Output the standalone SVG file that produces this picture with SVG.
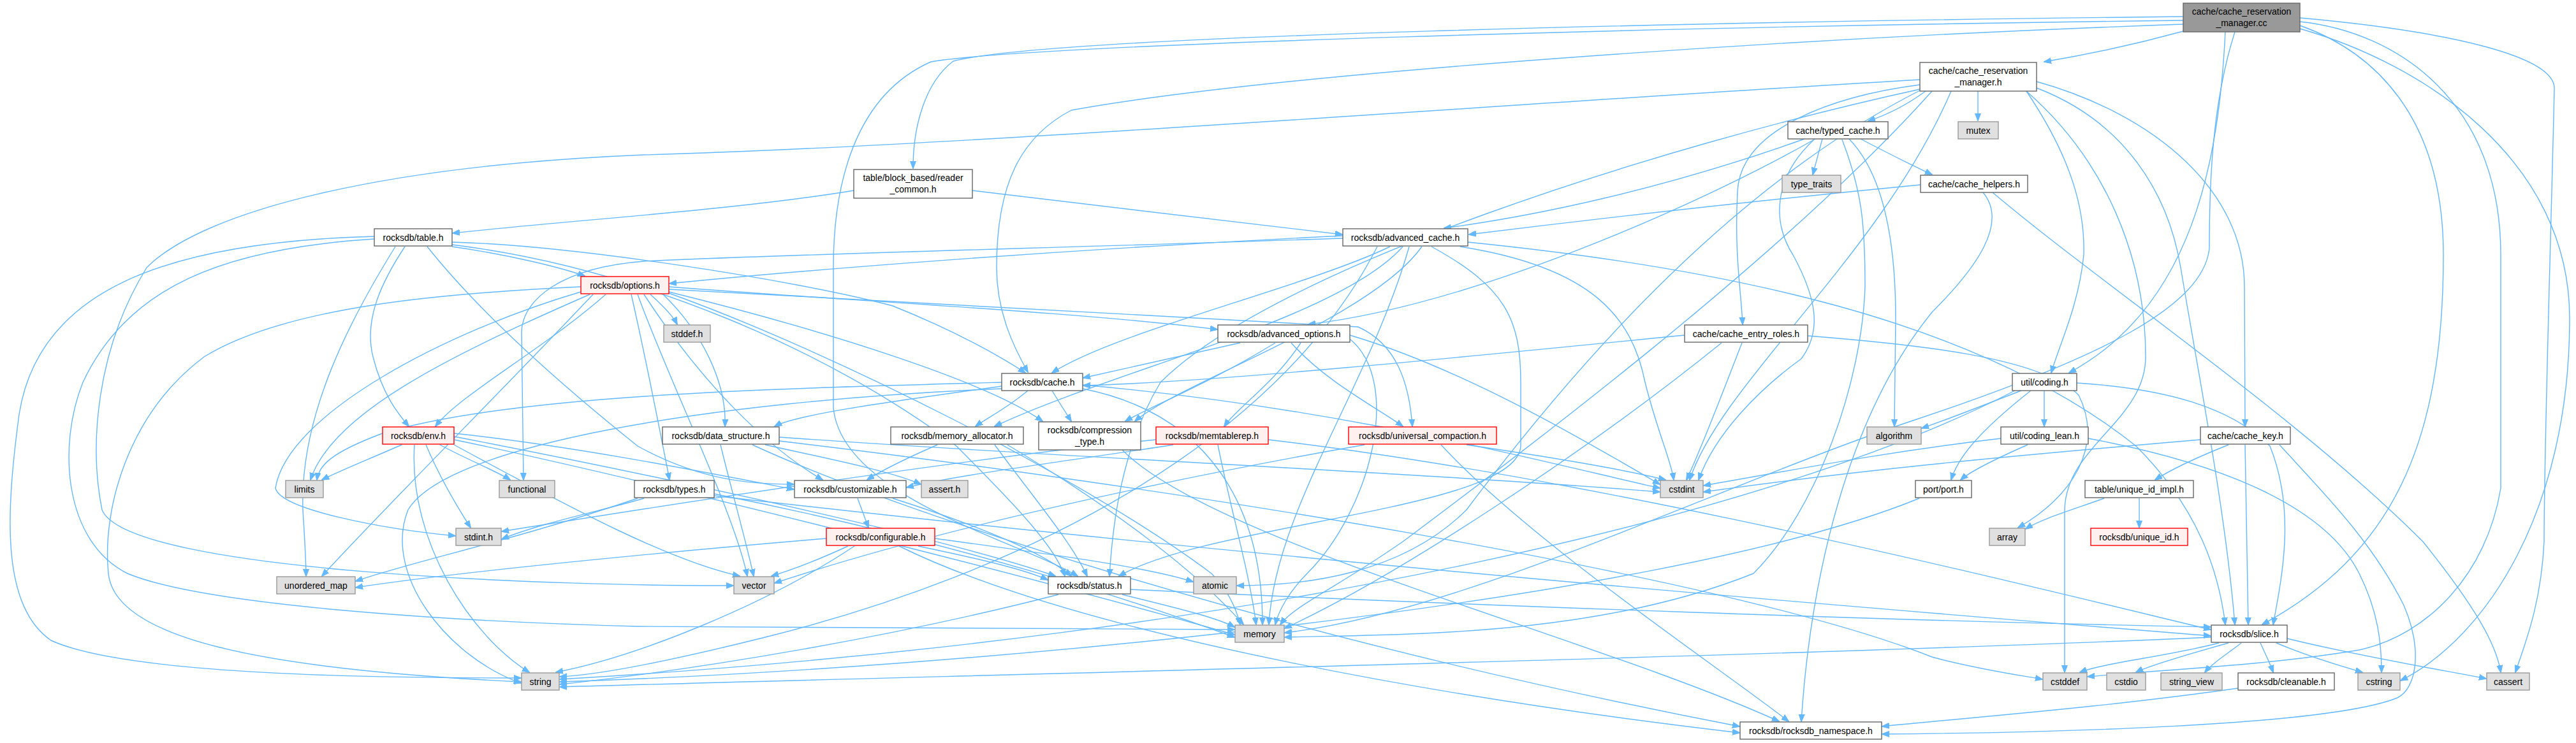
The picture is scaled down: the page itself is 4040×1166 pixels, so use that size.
<svg xmlns="http://www.w3.org/2000/svg" width="4040" height="1166" viewBox="0 0 4040 1166">
<defs>
<marker id="a" viewBox="0 0 12 10" refX="11" refY="5" markerWidth="12" markerHeight="10" markerUnits="userSpaceOnUse" orient="auto"><path d="M0,0.5 L12,5 L0,9.5 z" fill="#63b8ff" stroke="#63b8ff"/></marker>
</defs>
<style>
#edges path{fill:none;stroke:#63b8ff;stroke-width:1.4;marker-end:url(#a)}
.n rect{fill:#ffffff;stroke:#666666;stroke-width:1.4}
.g rect{fill:#e0e0e0;stroke:#999999;stroke-width:1.4}
.r rect{fill:#fff0f0;stroke:#ff0000;stroke-width:1.4}
.root rect{fill:#999999;stroke:#666666;stroke-width:1.4}
text{font-family:"Liberation Sans",Arial,sans-serif;font-size:14px;text-anchor:middle;fill:#000000}
</style>
<rect width="4040" height="1166" fill="#ffffff"/>
<g id="edges">
<path d="M3424,49 C3340,72 3260,88 3206,97"/>
<path d="M3424,26 C2700,34 1650,55 1495,96 C1450,130 1432,200 1432,264"/>
<path d="M3424,38 C2800,60 2000,115 1680,173 C1600,215 1563,290 1563,420 C1563,490 1590,545 1612,584"/>
<path d="M3424,32 C2600,42 1620,70 1460,97 C1340,150 1307,290 1307,420 L1307,640 C1320,780 1600,850 1690,904"/>
<path d="M3505,50 C3470,160 3465,280 3465,390 C3455,480 3300,560 3000,660 C2700,760 2300,960 2015,993"/>
<path d="M3490,50 C3480,250 3440,480 3245,585"/>
<path d="M3607,40 C3720,80 3832,180 3832,400 C3832,700 3750,870 3548,980"/>
<path d="M3607,34 C3760,50 3922,160 3922,400 L3922,766 C3900,900 3809,996 3700,1020 C3550,1045 3400,1050 3274,1062"/>
<path d="M3607,28 C3850,50 4009,90 4006,140 C4000,400 3990,700 3990,850 C3985,950 3960,1010 3945,1055"/>
<path d="M3607,45 C3800,100 4030,250 4030,500 C4030,800 3900,1000 3765,1068"/>
<path d="M3020,143 C2990,165 2960,180 2930,190"/>
<path d="M3102,143 L3102,189"/>
<path d="M3011,133 C2880,150 2730,200 2725,300 C2720,400 2730,450 2733,509"/>
<path d="M3194,128 C3380,180 3520,300 3520,450 L3521,669"/>
<path d="M3178,143 C3250,250 3270,330 3268,400 C3260,480 3230,540 3217,585"/>
<path d="M3194,138 C3330,190 3400,300 3420,420 C3450,600 3490,800 3505,980"/>
<path d="M3011,140 C2600,230 2000,420 1820,600 C1760,700 1745,820 1740,904"/>
<path d="M3011,142 C2700,300 2450,600 2300,800 C2200,900 2050,919 1940,919"/>
<path d="M3030,143 C2800,400 2400,700 2200,850 C2100,920 2030,950 2008,980"/>
<path d="M3060,143 C2950,400 2700,600 2650,753"/>
<path d="M3178,143 C3300,250 3365,400 3365,560 C3365,660 3240,700 3238,800 L3238,1055"/>
<path d="M3011,125 C2400,160 1500,230 1010,243 C600,260 320,330 230,420 C150,550 140,700 160,800 C200,900 900,920 1150,919"/>
<path d="M2858,218 L2843,274"/>
<path d="M2918,218 C2960,240 3000,260 3030,274"/>
<path d="M2830,218 C2600,300 2400,340 2265,358"/>
<path d="M2847,218 C2650,330 2300,480 2052,509"/>
<path d="M2900,218 C2960,280 2973,400 2973,500 L2971,669"/>
<path d="M2844,220 C2780,280 2780,350 2812,400 C2850,470 2857,520 2825,563 C2760,610 2690,680 2664,753"/>
<path d="M2889,219 C2920,300 2925,350 2925,450 C2920,600 2850,800 2750,900 C2500,1000 2200,995 2015,1000"/>
<path d="M3012,290 C2700,320 2450,350 2304,368"/>
<path d="M3125,302 C3300,450 3600,650 3800,850 C3880,950 3915,1010 3922,1055"/>
<path d="M3110,302 C3150,350 3100,420 3030,490 C2900,650 2840,900 2825,1132"/>
<path d="M1339,299 C1150,330 900,345 710,366"/>
<path d="M1525,299 C1700,320 1950,350 2105,368"/>
<path d="M709,387 C800,400 880,420 917,433"/>
<path d="M635,387 C600,440 570,500 585,560 C600,620 625,650 641,669"/>
<path d="M709,380 C900,385 1250,440 1400,480 C1500,520 1570,560 1608,585"/>
<path d="M670,387 C760,500 900,620 1000,700 C1100,755 1180,760 1245,760"/>
<path d="M709,384 C1000,420 1300,550 1500,700 C1600,800 1655,860 1670,904"/>
<path d="M587,375 C350,390 200,450 130,600 C90,700 100,850 200,900 C320,950 700,975 1000,983 C1500,988 1800,988 1936,988"/>
<path d="M587,371 C250,380 60,460 30,650 C10,800 0,950 80,1005 C200,1060 600,1064 817,1064"/>
<path d="M620,387 C550,500 470,650 475,800 C478,850 480,880 480,904"/>
<path d="M2106,370 C1700,390 1300,420 1050,445"/>
<path d="M2180,387 C2050,450 1750,520 1650,585"/>
<path d="M2200,387 C2100,500 1750,580 1560,669"/>
<path d="M2230,387 C2150,500 1850,600 1780,661"/>
<path d="M2302,380 C2700,420 3100,500 3350,700 C3450,800 3480,900 3490,980"/>
<path d="M2245,387 C2360,450 2385,500 2385,600 L2385,700 C2380,800 1900,820 1755,904"/>
<path d="M2290,387 C2500,420 2560,500 2580,600 C2600,680 2620,720 2625,753"/>
<path d="M2106,374 C1700,388 1200,400 1010,410 C880,420 820,470 818,520 L821,753"/>
<path d="M2210,387 C2150,600 2000,800 1990,980"/>
<path d="M2160,387 C2000,700 1600,900 1200,1000 C1000,1050 920,1060 878,1062"/>
<path d="M1020,462 C1040,480 1055,495 1062,509"/>
<path d="M911,458 C700,520 450,650 432,766 C440,800 600,830 714,841"/>
<path d="M925,462 C700,560 520,650 487,753"/>
<path d="M1049,460 C1300,550 1700,750 1900,900 C1930,930 1940,960 1945,980"/>
<path d="M911,450 C700,460 450,480 320,560 C200,650 160,800 170,900 C180,1000 400,1050 817,1070"/>
<path d="M930,462 C800,600 600,800 505,904"/>
<path d="M1000,462 C1050,600 1150,800 1172,904"/>
<path d="M1049,450 C1300,470 1700,490 1909,517"/>
<path d="M1049,458 C1300,520 1550,600 1635,661"/>
<path d="M1010,462 C1100,600 1200,700 1290,753"/>
<path d="M1040,462 C1100,520 1140,600 1137,669"/>
<path d="M950,462 C850,550 720,620 683,669"/>
<path d="M990,462 C1010,550 1030,650 1050,753"/>
<path d="M1049,454 C1500,480 1950,500 2130,513 C2190,540 2210,600 2215,669"/>
<path d="M1945,538 C1850,560 1760,580 1699,593"/>
<path d="M2000,538 C1900,600 1800,640 1765,661"/>
<path d="M2040,538 C2000,600 1940,640 1920,669"/>
<path d="M2025,538 C2080,600 2160,640 2200,669"/>
<path d="M2117,532 C2200,600 2150,800 2050,900 C2020,930 2005,960 2000,980"/>
<path d="M2117,526 C2300,580 2500,700 2603,760"/>
<path d="M2642,526 C2300,560 1900,600 1699,605"/>
<path d="M2732,538 C2700,620 2670,700 2645,753"/>
<path d="M2835,527 C3000,540 3200,560 3260,620 C3300,700 3250,780 3165,828"/>
<path d="M2700,538 C2500,700 2200,900 2015,986"/>
<path d="M1571,606 C1400,630 1250,650 1215,669"/>
<path d="M1612,613 C1580,640 1550,655 1530,669"/>
<path d="M1650,613 C1660,630 1670,645 1680,661"/>
<path d="M1698,604 C2100,640 2400,720 2603,766"/>
<path d="M1571,600 C1200,610 800,620 600,680 C520,710 500,730 497,753"/>
<path d="M1698,610 C1900,650 1980,800 1980,980"/>
<path d="M1571,610 C1100,630 700,700 640,800 C600,900 700,1030 817,1072"/>
<path d="M3170,613 C3100,640 3050,660 3014,672"/>
<path d="M3206,613 L3206,669"/>
<path d="M3185,613 C3100,680 3070,720 3060,753"/>
<path d="M3257,601 C3400,610 3500,640 3560,700 C3600,800 3580,900 3565,980"/>
<path d="M3160,613 C2800,800 2000,1000 878,1066"/>
<path d="M630,698 C580,720 530,740 505,753"/>
<path d="M690,698 C730,720 780,740 800,753"/>
<path d="M668,698 C690,750 720,800 738,828"/>
<path d="M712,690 C1000,750 1600,900 1936,996"/>
<path d="M650,698 C640,850 740,1000 830,1055"/>
<path d="M712,698 C900,800 1050,880 1160,904"/>
<path d="M712,680 C900,700 1100,740 1245,768"/>
<path d="M712,685 C1100,760 1500,850 1655,904"/>
<path d="M1200,698 C1300,720 1400,740 1444,760"/>
<path d="M1222,692 C1800,760 2700,900 3030,1031 C3100,1050 3170,1060 3203,1066"/>
<path d="M1222,686 C1700,720 2200,740 2603,772"/>
<path d="M1130,698 C1150,780 1170,850 1182,904"/>
<path d="M1180,698 C1400,800 2000,1000 2728,1140"/>
<path d="M1470,698 C1420,720 1380,740 1360,753"/>
<path d="M1560,698 C1620,780 1680,850 1705,904"/>
<path d="M1580,698 C1750,800 1880,900 1950,980"/>
<path d="M1760,706 C1900,850 2500,1000 2790,1132"/>
<path d="M1840,698 C1700,720 1500,745 1422,765"/>
<path d="M1989,690 C2500,750 3100,900 3467,988"/>
<path d="M1813,690 C1500,720 1000,800 787,834"/>
<path d="M1910,698 C1930,800 1960,900 1970,980"/>
<path d="M2300,698 C2450,720 2560,740 2612,753"/>
<path d="M2140,698 C1900,740 1500,820 1215,915"/>
<path d="M2260,698 C2400,850 2700,1050 2805,1132"/>
<path d="M3138,688 C2950,710 2800,740 2672,762"/>
<path d="M3275,688 C3500,730 3650,800 3700,900 C3730,960 3735,1010 3735,1055"/>
<path d="M3180,698 C3130,720 3090,740 3075,753"/>
<path d="M3451,690 C3100,720 2900,740 2672,772"/>
<path d="M3575,698 C3650,780 3720,850 3770,950 C3800,1020 3790,1080 3760,1095 C3650,1140 3200,1150 2952,1152"/>
<path d="M3521,698 C3522,800 3525,900 3526,980"/>
<path d="M3495,698 C3440,720 3400,740 3380,753"/>
<path d="M1010,782 C950,800 850,820 787,846"/>
<path d="M1120,775 C1500,850 1800,950 1936,1000"/>
<path d="M1000,782 C800,850 650,880 558,912"/>
<path d="M1120,778 C2000,880 3000,960 3467,998"/>
<path d="M1345,782 L1362,828"/>
<path d="M1400,782 C1550,830 1640,870 1680,904"/>
<path d="M3010,782 C2600,950 1500,1050 878,1070"/>
<path d="M3300,782 C3250,800 3200,815 3177,830"/>
<path d="M3355,782 L3355,828"/>
<path d="M1466,845 C1650,870 1800,890 1871,913"/>
<path d="M1340,857 C1200,950 1000,1030 872,1055"/>
<path d="M1296,845 C1000,870 700,900 558,922"/>
<path d="M1330,857 C1280,880 1240,895 1210,904"/>
<path d="M1410,857 C1700,1000 2300,1100 2728,1150"/>
<path d="M1440,857 C1550,880 1610,895 1643,910"/>
<path d="M1760,933 C1850,955 1910,970 1936,984"/>
<path d="M1660,933 C1400,1000 1100,1050 878,1074"/>
<path d="M1773,925 C2300,950 3000,975 3467,984"/>
<path d="M3587,1002 C3700,1030 3850,1055 3899,1065"/>
<path d="M3480,1009 C3400,1030 3300,1040 3262,1055"/>
<path d="M3495,1009 C3420,1030 3370,1045 3350,1055"/>
<path d="M3570,1009 C3620,1030 3670,1045 3705,1055"/>
<path d="M3468,1000 C2800,1030 1500,1060 878,1078"/>
<path d="M3515,1009 C3495,1025 3470,1040 3458,1055"/>
<path d="M3545,1009 C3552,1025 3560,1040 3565,1055"/>
<path d="M3510,1080 C3300,1110 3100,1125 2952,1140"/>
</g>
<g id="n_root" class="root"><rect x="3424" y="5" width="183" height="45"/><text x="3515.5" y="23">cache/cache_reservation</text><text x="3515.5" y="41">_manager.cc</text></g>
<g id="n_crm_h" class="n"><rect x="3011" y="98" width="183" height="45"/><text x="3102.5" y="116">cache/cache_reservation</text><text x="3102.5" y="134">_manager.h</text></g>
<g id="n_typed_cache" class="n"><rect x="2804" y="191" width="157" height="27"/><text x="2882.5" y="209.5">cache/typed_cache.h</text></g>
<g id="n_mutex" class="g"><rect x="3071" y="191" width="63" height="27"/><text x="3102.5" y="209.5">mutex</text></g>
<g id="n_reader_common" class="n"><rect x="1339" y="266" width="186" height="45"/><text x="1432" y="284">table/block_based/reader</text><text x="1432" y="302">_common.h</text></g>
<g id="n_type_traits" class="g"><rect x="2795" y="275" width="92" height="27"/><text x="2841" y="293.5">type_traits</text></g>
<g id="n_cache_helpers" class="n"><rect x="3012" y="275" width="168" height="27"/><text x="3096" y="293.5">cache/cache_helpers.h</text></g>
<g id="n_table" class="n"><rect x="587" y="359" width="122" height="27"/><text x="648" y="377.5">rocksdb/table.h</text></g>
<g id="n_advanced_cache" class="n"><rect x="2106" y="359" width="196" height="27"/><text x="2204" y="377.5">rocksdb/advanced_cache.h</text></g>
<g id="n_options" class="r"><rect x="911" y="434" width="138" height="27"/><text x="980" y="452.5">rocksdb/options.h</text></g>
<g id="n_stddef" class="g"><rect x="1041" y="510" width="73" height="27"/><text x="1077.5" y="528.5">stddef.h</text></g>
<g id="n_advanced_options" class="n"><rect x="1910" y="510" width="207" height="27"/><text x="2013.5" y="528.5">rocksdb/advanced_options.h</text></g>
<g id="n_cache_entry_roles" class="n"><rect x="2642" y="510" width="193" height="27"/><text x="2738.5" y="528.5">cache/cache_entry_roles.h</text></g>
<g id="n_cache" class="n"><rect x="1571" y="586" width="127" height="27"/><text x="1634.5" y="604.5">rocksdb/cache.h</text></g>
<g id="n_coding" class="n"><rect x="3156" y="586" width="101" height="27"/><text x="3206.5" y="604.5">util/coding.h</text></g>
<g id="n_env" class="r"><rect x="600" y="670" width="112" height="27"/><text x="656" y="688.5">rocksdb/env.h</text></g>
<g id="n_data_structure" class="n"><rect x="1039" y="670" width="183" height="27"/><text x="1130.5" y="688.5">rocksdb/data_structure.h</text></g>
<g id="n_memory_allocator" class="n"><rect x="1397" y="670" width="208" height="27"/><text x="1501" y="688.5">rocksdb/memory_allocator.h</text></g>
<g id="n_compression_type" class="n"><rect x="1629" y="662" width="160" height="44"/><text x="1709" y="680">rocksdb/compression</text><text x="1709" y="698">_type.h</text></g>
<g id="n_memtablerep" class="r"><rect x="1813" y="670" width="176" height="27"/><text x="1901" y="688.5">rocksdb/memtablerep.h</text></g>
<g id="n_universal_compaction" class="r"><rect x="2115" y="670" width="232" height="27"/><text x="2231" y="688.5">rocksdb/universal_compaction.h</text></g>
<g id="n_algorithm" class="g"><rect x="2928" y="670" width="85" height="27"/><text x="2970.5" y="688.5">algorithm</text></g>
<g id="n_coding_lean" class="n"><rect x="3138" y="670" width="137" height="27"/><text x="3206.5" y="688.5">util/coding_lean.h</text></g>
<g id="n_cache_key" class="n"><rect x="3451" y="670" width="141" height="27"/><text x="3521.5" y="688.5">cache/cache_key.h</text></g>
<g id="n_limits" class="g"><rect x="448" y="754" width="59" height="27"/><text x="477.5" y="772.5">limits</text></g>
<g id="n_functional" class="g"><rect x="783" y="754" width="87" height="27"/><text x="826.5" y="772.5">functional</text></g>
<g id="n_types" class="n"><rect x="995" y="754" width="125" height="27"/><text x="1057.5" y="772.5">rocksdb/types.h</text></g>
<g id="n_customizable" class="n"><rect x="1246" y="754" width="175" height="27"/><text x="1333.5" y="772.5">rocksdb/customizable.h</text></g>
<g id="n_assert_h" class="g"><rect x="1445" y="754" width="73" height="27"/><text x="1481.5" y="772.5">assert.h</text></g>
<g id="n_cstdint" class="g"><rect x="2604" y="754" width="67" height="27"/><text x="2637.5" y="772.5">cstdint</text></g>
<g id="n_port" class="n"><rect x="3004" y="754" width="88" height="27"/><text x="3048" y="772.5">port/port.h</text></g>
<g id="n_unique_id_impl" class="n"><rect x="3270" y="754" width="170" height="27"/><text x="3355" y="772.5">table/unique_id_impl.h</text></g>
<g id="n_stdint" class="g"><rect x="715" y="829" width="71" height="27"/><text x="750.5" y="847.5">stdint.h</text></g>
<g id="n_configurable" class="r"><rect x="1296" y="829" width="170" height="27"/><text x="1381" y="847.5">rocksdb/configurable.h</text></g>
<g id="n_array" class="g"><rect x="3120" y="829" width="56" height="27"/><text x="3148" y="847.5">array</text></g>
<g id="n_unique_id" class="r"><rect x="3279" y="829" width="152" height="27"/><text x="3355" y="847.5">rocksdb/unique_id.h</text></g>
<g id="n_unordered_map" class="g"><rect x="434" y="905" width="123" height="27"/><text x="495.5" y="923.5">unordered_map</text></g>
<g id="n_vector" class="g"><rect x="1151" y="905" width="63" height="27"/><text x="1182.5" y="923.5">vector</text></g>
<g id="n_status" class="n"><rect x="1644" y="905" width="129" height="27"/><text x="1708.5" y="923.5">rocksdb/status.h</text></g>
<g id="n_atomic" class="g"><rect x="1872" y="905" width="67" height="27"/><text x="1905.5" y="923.5">atomic</text></g>
<g id="n_memory" class="g"><rect x="1937" y="981" width="77" height="27"/><text x="1975.5" y="999.5">memory</text></g>
<g id="n_slice" class="n"><rect x="3468" y="981" width="119" height="27"/><text x="3527.5" y="999.5">rocksdb/slice.h</text></g>
<g id="n_string" class="g"><rect x="818" y="1056" width="59" height="27"/><text x="847.5" y="1074.5">string</text></g>
<g id="n_cstddef" class="g"><rect x="3204" y="1056" width="69" height="27"/><text x="3238.5" y="1074.5">cstddef</text></g>
<g id="n_cstdio" class="g"><rect x="3304" y="1056" width="61" height="27"/><text x="3334.5" y="1074.5">cstdio</text></g>
<g id="n_string_view" class="g"><rect x="3389" y="1056" width="96" height="27"/><text x="3437" y="1074.5">string_view</text></g>
<g id="n_cleanable" class="n"><rect x="3510" y="1056" width="151" height="27"/><text x="3585.5" y="1074.5">rocksdb/cleanable.h</text></g>
<g id="n_cstring" class="g"><rect x="3698" y="1056" width="66" height="27"/><text x="3731" y="1074.5">cstring</text></g>
<g id="n_cassert" class="g"><rect x="3900" y="1056" width="67" height="27"/><text x="3933.5" y="1074.5">cassert</text></g>
<g id="n_rocksdb_namespace" class="n"><rect x="2729" y="1133" width="222" height="27"/><text x="2840" y="1151.5">rocksdb/rocksdb_namespace.h</text></g>
</svg>
